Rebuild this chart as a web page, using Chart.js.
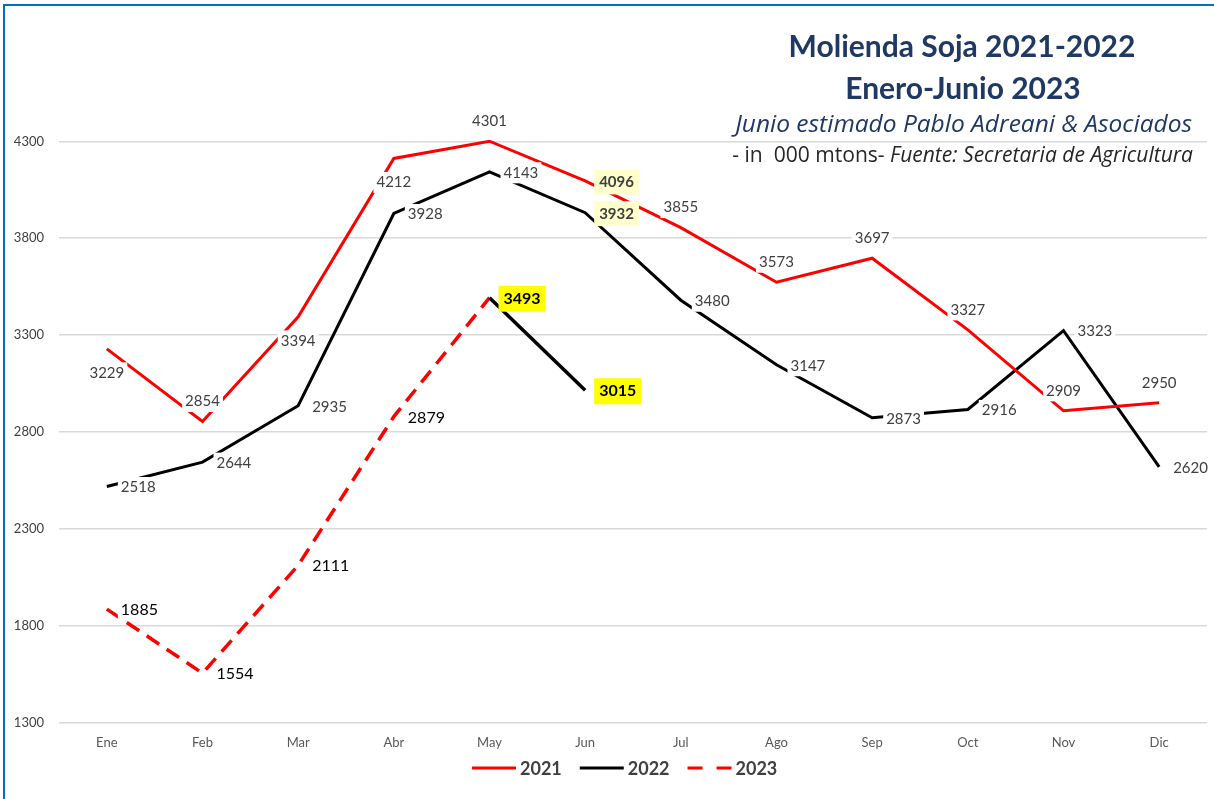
<!DOCTYPE html>
<html>
<head>
<meta charset="utf-8">
<script src="https://cdn.jsdelivr.net/npm/chart.js@4.4.0/dist/chart.umd.min.js"></script>
<style>
  html, body { margin: 0; padding: 0; background: #fff; overflow: hidden; }
  #frame { position: absolute; left: 3px; top: 4px; width: 1400px; height: 1000px; border: 2px solid #0070C0; }
  #wrap { position: absolute; left: 0; top: 0; width: 1214px; height: 799px; }
</style>
</head>
<body>
<div id="frame"></div>
<div id="wrap"><canvas id="molienda"></canvas></div>
<script>
"use strict";

const months = ['Ene', 'Feb', 'Mar', 'Abr', 'May', 'Jun', 'Jul', 'Ago', 'Sep', 'Oct', 'Nov', 'Dic'];
const soja_2021 = [3229, 2854, 3394, 4212, 4301, 4096, 3855, 3573, 3697, 3327, 2909, 2950];
const soja_2022 = [2518, 2644, 2935, 3928, 4143, 3932, 3480, 3147, 2873, 2916, 3323, 2620];
const soja_2023 = [1885, 1554, 2111, 2879, 3493, 3015];
const y_ticks = [1300, 1800, 2300, 2800, 3300, 3800, 4300];

/* --- where each value label sits --- */
const pos_2021 = ['below', 'above', 'below', 'below', 'above', 'right', 'above', 'above', 'above', 'above', 'above', 'above'];
const pos_2022 = months.map(() => 'right');
const pos_2023 = soja_2023.map(() => 'right');
const label_pos = [pos_2021, pos_2022, pos_2023];

// highlighted labels: "dataset-index" -> background
const highlights = { '0-5': '#FFFFCC', '1-5': '#FFFFCC', '2-4': '#FFFF00', '2-5': '#FFFF00' };

const FONT = 'Lato';
const SUB_FONT = '"Open Sans"';

const value_labels = {
  id: 'value_labels',
  afterDatasetsDraw(chart) {
    const ctx = chart.ctx;
    ctx.save();
    ctx.textBaseline = 'middle';
    ctx.textAlign = 'left';
    chart.data.datasets.forEach((ds, di) => {
      const meta = chart.getDatasetMeta(di);
      meta.data.forEach((pt, i) => {
        const hl = highlights[di + '-' + i];
        const size = di === 2 ? 16 : 15;
        ctx.font = (hl ? 'bold ' : '') + size + 'px ' + FONT;
        const txt = String(ds.data[i]);
        const w = ctx.measureText(txt).width;
        const p = label_pos[di][i];
        let x, y;
        if (p === 'right') { x = pt.x + 14; y = pt.y + 1; }
        else if (p === 'above') { x = pt.x - w / 2; y = pt.y - 20; }
        else { x = pt.x - w / 2; y = pt.y + 24; }
        const pad = hl ? 5 : 3;
        ctx.fillStyle = hl || '#fff';
        ctx.fillRect(x - pad, y - size / 2 - pad, w + pad * 2, size + pad * 2);
        ctx.fillStyle = di === 2 ? '#000' : '#404040';
        ctx.fillText(txt, x, y);
      });
    });
    ctx.restore();
  }
};

/* --- title block + legend (drawn on top) --- */
const title_block = {
  id: 'title_block',
  afterDraw(chart) {
    const ctx = chart.ctx;
    ctx.save();
    ctx.textBaseline = 'alphabetic';
    ctx.fillStyle = '#1F3864';
    ctx.textAlign = 'center';
    ctx.font = 'bold 30px ' + FONT;
    ctx.fillText('Molienda Soja 2021-2022', 962, 57);
    ctx.fillText('Enero-Junio 2023', 963, 99);

    ctx.textAlign = 'right';
    const sub = 'Junio estimado Pablo Adreani & Asociados';
    ctx.font = 'italic 20px ' + SUB_FONT;
    const sub_size = (20 * 457 / ctx.measureText(sub).width).toFixed(2);
    ctx.font = 'italic ' + sub_size + 'px ' + SUB_FONT;
    ctx.fillText(sub, 1192, 132);

    // "- in 000 mtons-" plain, source in italics; both fitted to 461px
    ctx.fillStyle = '#262626';
    const plain_part = '- in  000 mtons- ';
    const italic_part = 'Fuente: Secretaria de Agricultura';
    ctx.font = 'italic 20px ' + SUB_FONT;
    let total = ctx.measureText(italic_part).width;
    ctx.font = '20px ' + SUB_FONT;
    total += ctx.measureText(plain_part).width;
    const s = (20 * 461 / total).toFixed(2);
    ctx.font = 'italic ' + s + 'px ' + SUB_FONT;
    const iw = ctx.measureText(italic_part).width;
    ctx.fillText(italic_part, 1193, 162);
    ctx.font = s + 'px ' + SUB_FONT;
    ctx.fillText(plain_part, 1193 - iw, 162);

    // legend
    const ly = 768;
    let lx = 472;
    ctx.textAlign = 'left';
    ctx.textBaseline = 'middle';
    ctx.font = 'bold 18px ' + FONT;
    chart.data.datasets.forEach((ds, i) => {
      ctx.strokeStyle = ds.borderColor;
      ctx.lineWidth = 3;
      ctx.setLineDash(i === 2 ? [15, 14] : []);
      ctx.beginPath();
      ctx.moveTo(lx, ly);
      ctx.lineTo(lx + 44, ly);
      ctx.stroke();
      ctx.fillStyle = '#404040';
      ctx.fillText(ds.label, lx + 48, ly + 1);
      lx += 48 + ctx.measureText(ds.label).width + 18;
    });
    ctx.restore();
  }
};

const molienda = document.getElementById('molienda');

let molienda_chart = new Chart(molienda, {
  type: 'line',
  data: {
    labels: months,
    datasets: [{
      label: '2021',
      data: soja_2021,
      borderColor: '#FF0000',
      borderWidth: 3,
      pointRadius: 0,
      tension: 0
    }, {
      label: '2022',
      data: soja_2022,
      borderColor: '#000000',
      borderWidth: 3,
      pointRadius: 0,
      tension: 0
    }, {
      label: '2023',
      data: soja_2023,
      borderColor: '#FF0000',
      borderWidth: 3.5,
      borderDash: [15, 9],
      pointRadius: 0,
      tension: 0,
      segment: {
        borderColor: c => c.p0DataIndex === 4 ? '#000000' : undefined,
        borderDash: c => c.p0DataIndex === 4 ? [] : undefined
      }
    }]
  },
  options: {
    responsive: true,
    maintainAspectRatio: false,
    animation: false,
    layout: {
      padding: { top: 93, right: 7, left: 0, bottom: 35 }
    },
    plugins: {
      legend: {
        display: false
      },
      tooltip: {
        enabled: false
      }
    },
    scales: {
      x: {
        offset: true,
        grid: { display: false, drawTicks: false },
        border: { display: false },
        ticks: {
          color: '#595959',
          padding: 13,
          font: { family: FONT, size: 13 }
        }
      },
      y: {
        min: 1300,
        max: 4550,
        afterBuildTicks: scale => { scale.ticks = y_ticks.map(v => ({ value: v })); },
        afterFit: scale => { scale.width = 59; },
        grid: { color: '#D9D9D9', lineWidth: 1.5, drawTicks: false },
        border: { display: false },
        ticks: {
          color: '#404040',
          padding: 15,
          font: { family: FONT, size: 13 },
          callback: v => String(v)
        }
      }
    }
  },
  plugins: [value_labels, title_block]
});
</script>
</body>
</html>
